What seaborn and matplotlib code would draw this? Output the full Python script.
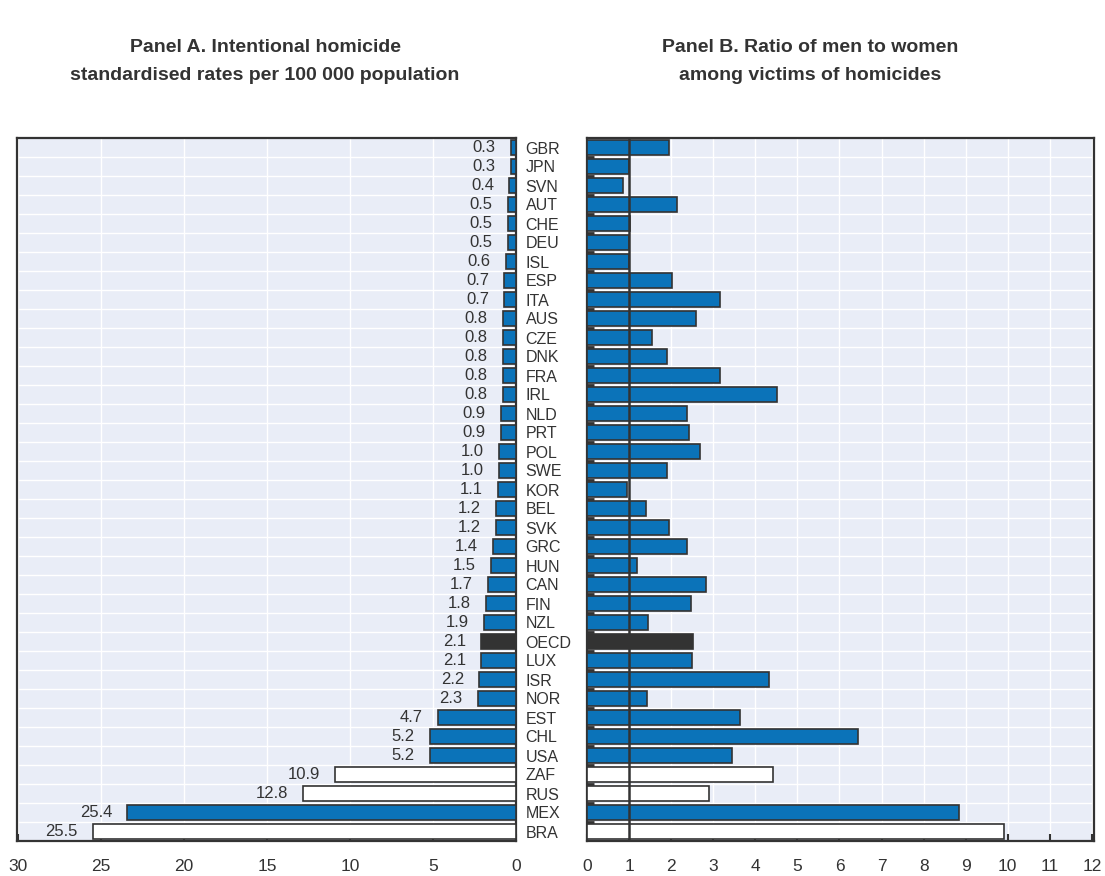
import matplotlib
matplotlib.use("Agg")
import matplotlib.pyplot as plt
import seaborn as sns
import pandas as pd
import numpy as np
from matplotlib import font_manager
from matplotlib.ticker import FixedLocator

# ---------------- data ----------------
countries = ["GBR", "JPN", "SVN", "AUT", "CHE", "DEU", "ISL", "ESP", "ITA", "AUS",
             "CZE", "DNK", "FRA", "IRL", "NLD", "PRT", "POL", "SWE", "KOR", "BEL",
             "SVK", "GRC", "HUN", "CAN", "FIN", "NZL", "OECD", "LUX", "ISR", "NOR",
             "EST", "CHL", "USA", "ZAF", "RUS", "MEX", "BRA"]
rate_labels = ["0.3", "0.3", "0.4", "0.5", "0.5", "0.5", "0.6", "0.7", "0.7", "0.8",
               "0.8", "0.8", "0.8", "0.8", "0.9", "0.9", "1.0", "1.0", "1.1", "1.2",
               "1.2", "1.4", "1.5", "1.7", "1.8", "1.9", "2.1", "2.1", "2.2", "2.3",
               "4.7", "5.2", "5.2", "10.9", "12.8", "25.4", "25.5"]
homicide_rate = [0.3, 0.3, 0.4, 0.5, 0.5, 0.5, 0.6, 0.7, 0.7, 0.8,
                 0.8, 0.8, 0.8, 0.8, 0.9, 0.9, 1.0, 1.0, 1.1, 1.2,
                 1.2, 1.4, 1.5, 1.7, 1.8, 1.9, 2.1, 2.1, 2.2, 2.3,
                 4.7, 5.2, 5.2, 10.9, 12.8, 23.4, 25.5]
men_women_ratio = [1.96, 1.00, 0.85, 2.15, 1.03, 1.01, 0.99, 2.02, 3.15, 2.58,
                   1.55, 1.90, 3.15, 4.51, 2.38, 2.42, 2.69, 1.90, 0.96, 1.41,
                   1.94, 2.37, 1.20, 2.82, 2.46, 1.45, 2.51, 2.50, 4.33, 1.42,
                   3.63, 6.43, 3.44, 4.42, 2.90, 8.84, 9.90]
group = ["member"] * 26 + ["average"] + ["member"] * 6 + ["partner", "partner", "member", "partner"]

left_ticks = [0, 5, 10, 15, 20, 25, 30]
right_ticks = list(range(0, 13))

title_a = ["Panel A. Intentional homicide", "standardised rates per 100 000 population"]
title_b = ["Panel B. Ratio of men to women", "among victims of homicides"]

# ---------------- style ----------------
sns.set_theme(style="white")
names = {f.name for f in font_manager.fontManager.ttflist}
narrow = "Liberation Sans Narrow" if "Liberation Sans Narrow" in names else "Liberation Sans"
plt.rcParams["font.family"] = [narrow, "DejaVu Sans"]

BLUE = "#0B73B9"
DARK = "#333333"
BG = "#E9EDF7"
group_color = {"member": BLUE, "average": DARK, "partner": "#FFFFFF"}
palette = {c: group_color[g] for c, g in zip(countries, group)}

df = pd.DataFrame({"country": countries, "rate": homicide_rate,
                   "ratio": men_women_ratio, "group": group})

W, H = 1105, 876
fig = plt.figure(figsize=(W / 100, H / 100), dpi=100)
axL = fig.add_axes([17 / W, 1 - 841 / H, 499 / W, 703 / H])
axR = fig.add_axes([587 / W, 1 - 841 / H, 507 / W, 703 / H])

for ax, col in ((axL, "rate"), (axR, "ratio")):
    sns.barplot(data=df, y="country", x=col, hue="country", palette=palette,
                saturation=1, legend=False, orient="h", width=0.8, edgecolor=DARK,
                linewidth=1.2, ax=ax, zorder=3)
    ax.set_facecolor(BG)
    ax.set_axisbelow(True)
    ax.set_ylim(len(countries) - 0.5, -0.5)
    ax.set_xlabel("")
    ax.set_ylabel("")
    ax.yaxis.set_minor_locator(FixedLocator(np.arange(0.5, len(countries) - 0.5, 1)))
    ax.grid(axis="y", which="minor", color="white", lw=1.0)
    ax.grid(axis="y", which="major", visible=False)
    ax.grid(axis="x", which="major", color="white", lw=1.0)
    for s in ax.spines.values():
        s.set_visible(True)
        s.set_color(DARK)
        s.set_linewidth(1.6)
    ax.tick_params(axis="x", which="major", direction="in", length=5, width=1.5,
                   color=DARK, labelsize=12.5, labelcolor=DARK, pad=13,
                   top=False, bottom=True)

# left panel
axL.set_xlim(30.05, 0)
axL.xaxis.set_major_locator(FixedLocator(left_ticks))
axL.set_xticklabels([str(t) for t in left_ticks])
axL.yaxis.tick_right()
axL.tick_params(axis="y", which="major", length=0, pad=7, labelsize=11.5,
                labelcolor=DARK, right=True, left=False)
axL.tick_params(axis="y", which="minor", length=0)
for i, (v, lab) in enumerate(zip(homicide_rate, rate_labels)):
    axL.annotate(lab, (v, i), xytext=(-11, 0), textcoords="offset points",
                 ha="right", va="center", fontsize=12, color=DARK)

# right panel
axR.set_xlim(0, 12.05)
axR.xaxis.set_major_locator(FixedLocator(right_ticks))
axR.set_xticklabels([str(t) for t in right_ticks])
axR.set_yticklabels([])
axR.tick_params(axis="y", which="major", length=0, left=False)
axR.tick_params(axis="y", which="minor", direction="in", length=5, width=2,
                color=DARK, left=True)
axR.axvline(1, color=DARK, lw=1.8, zorder=5)

# titles
for k, line in enumerate(title_a):
    fig.text(265 / W, 1 - (47 + 28 * k) / H, line, ha="center", va="center",
             fontsize=14, fontweight="bold", color=DARK)
for k, line in enumerate(title_b):
    fig.text(810 / W, 1 - (47 + 28 * k) / H, line, ha="center", va="center",
             fontsize=14, fontweight="bold", color=DARK)

fig.savefig("out.png", dpi=100)
